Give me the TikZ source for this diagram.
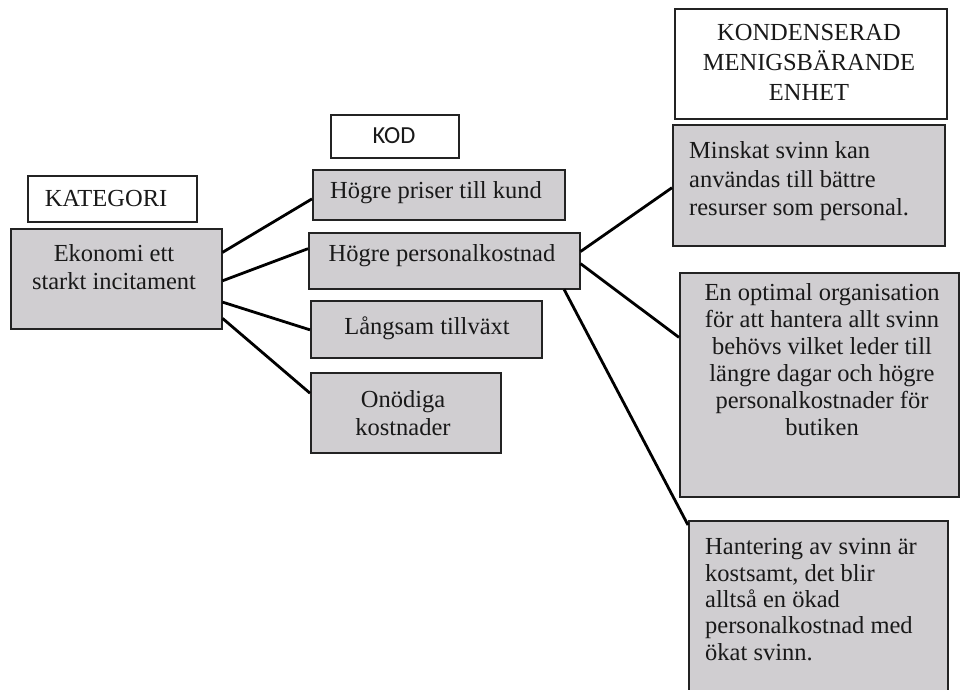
\documentclass[tikz,border=0pt]{standalone}
\usepackage{fontspec}
\setmainfont{Liberation Serif}
\newfontfamily\kodfont{Carlito}
\usetikzlibrary{calc}
\definecolor{boxgray}{RGB}{208,206,209}
\definecolor{edge}{RGB}{35,35,35}
\begin{document}
\begin{tikzpicture}[x=1pt,y=-1pt,
  box/.style={draw=edge, line width=1.5pt, inner sep=0pt, anchor=north west, fill=boxgray},
  wbox/.style={box, fill=white},
  txt/.style={font=\fontsize{24.5}{27.5}\selectfont, inner sep=0pt, align=center, text=black!90},
  ltxt/.style={txt, align=left, anchor=west},
  conn/.style={line width=2.8pt}]
\useasboundingbox (0,0) rectangle (961,689);
\clip (0,0) rectangle (961,689);
% boxes
\node[wbox, minimum width=169pt, minimum height=46pt] (katb) at (27,175) {};
\node[box, minimum width=211pt, minimum height=100pt] (eko) at (10,228) {};
\node[wbox, minimum width=128pt, minimum height=43pt] (kodb) at (330,114) {};
\node[box, minimum width=252pt, minimum height=50pt] (hpk) at (312,169) {};
\node[box, minimum width=271pt, minimum height=56pt] (hpers) at (308,232) {};
\node[box, minimum width=231pt, minimum height=57pt] (lang) at (310,300) {};
\node[box, minimum width=190pt, minimum height=80pt] (ono) at (310,372) {};
\node[wbox, minimum width=272pt, minimum height=110pt] (kond) at (674,8) {};
\node[box, minimum width=272pt, minimum height=121pt] (mins) at (672,124) {};
\node[box, minimum width=279pt, minimum height=224pt] (opt) at (679,272) {};
\node[box, minimum width=259pt, minimum height=200pt] (han) at (688,520) {};
% texts
\node[txt] (katt) at (106,199) {KATEGORI};
\node[txt, font=\kodfont\fontsize{24.5}{27.5}\selectfont] (kodt) at (394,136) {KOD};
\node[txt] (ekot) at (114,267) {Ekonomi ett\\starkt incitament};
\node[txt] (hpkt) at (436,193) {Högre priser till kund};
\node[txt] (hperst) at (442,256) {Högre personalkostnad};
\node[txt] (langt) at (427,328) {Långsam tillväxt};
\node[txt] (onot) at (403,413) {Onödiga\\kostnader};
\node[txt, font=\fontsize{24.5}{30}\selectfont] (kondt) at (809,62) {KONDENSERAD\\MENIGSBÄRANDE\\ENHET};
\node[ltxt, font=\fontsize{24.5}{28.5}\selectfont] (minst) at (689,181.5) {Minskat svinn kan\\användas till bättre\\resurser som personal.};
\node[txt, font=\fontsize{24.5}{27}\selectfont] (optt) at (822,360) {En optimal organisation\\för att hantera allt svinn\\behövs vilket leder till\\längre dagar och högre\\personalkostnader för\\butiken};
\node[ltxt, font=\fontsize{24.5}{26.3}\selectfont] (hant) at (705,599.5) {Hantering av svinn är\\kostsamt, det blir\\alltså en ökad\\personalkostnad med\\ökat svinn.};
% connectors
\draw[conn] ($(eko.north east)!0.24!(eko.south east)$) -- ($(hpk.north west)!0.58!(hpk.south west)$);
\draw[conn] ($(eko.north east)!0.52!(eko.south east)$) -- ($(hpers.north west)!0.29!(hpers.south west)$);
\draw[conn] ($(eko.north east)!0.73!(eko.south east)$) -- ($(lang.north west)!0.51!(lang.south west)$);
\draw[conn] ($(eko.north east)!0.89!(eko.south east)$) -- ($(ono.north west)!0.26!(ono.south west)$);
\draw[conn] ($(hpers.north east)!0.34!(hpers.south east)$) -- ($(mins.north west)!0.52!(mins.south west)$);
\draw[conn] ($(hpers.north east)!0.55!(hpers.south east)$) -- ($(opt.north west)!0.29!(opt.south west)$);
\draw[conn] ($(hpers.south west)!0.94!(hpers.south east)$) -- ($(han.north west)!0.025!(han.south west)$);
\end{tikzpicture}
\end{document}
